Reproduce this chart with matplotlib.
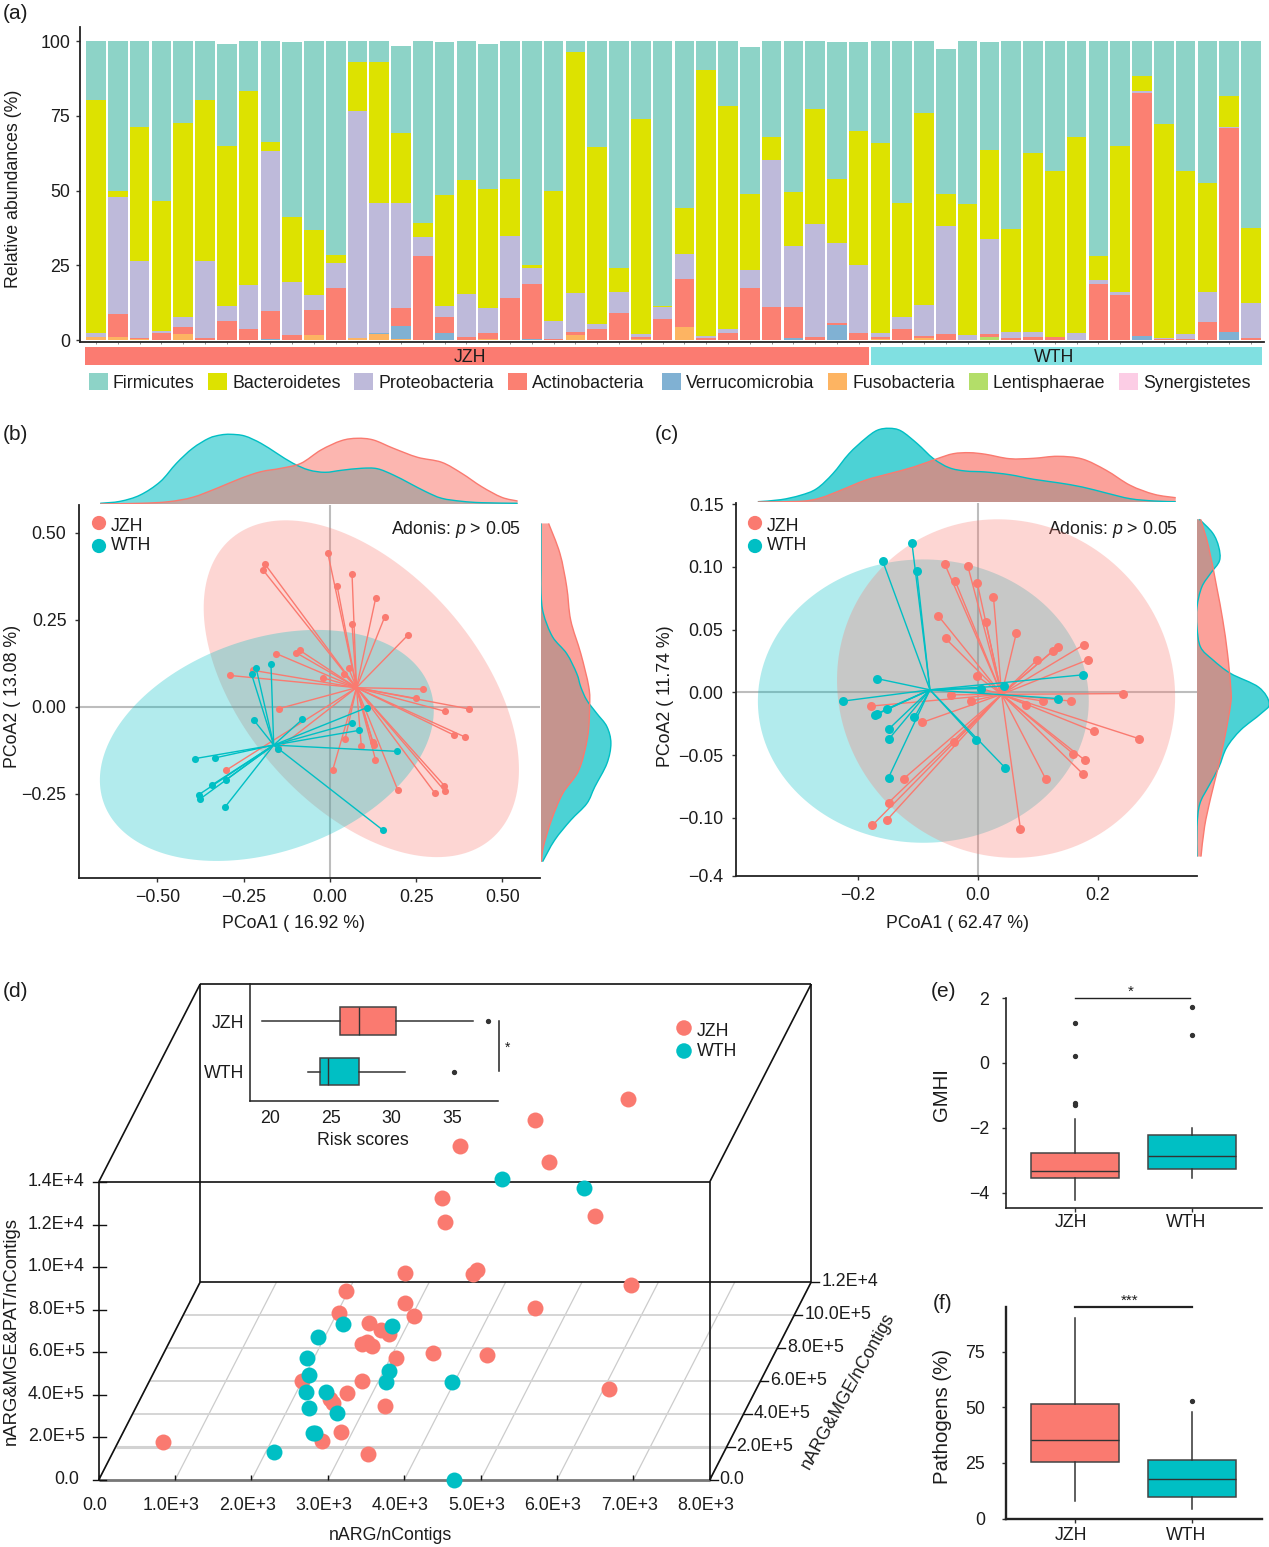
import numpy as np
import matplotlib
matplotlib.use('Agg')
import matplotlib.pyplot as plt
from matplotlib.patches import Rectangle, PathPatch
from matplotlib.path import Path

plt.rcParams['font.family'] = ['Liberation Sans', 'DejaVu Sans']
plt.rcParams['mathtext.fontset'] = 'custom'
plt.rcParams['mathtext.it'] = 'Liberation Sans:italic'
plt.rcParams['mathtext.rm'] = 'Liberation Sans'

W, H = 1269, 1547
PINK = '#FA7A70'
TEAL = '#00BFC4'
DARK = '#1c1c1c'
FS = 12.8

# (a) stacked phyla, one value per sample
phyla = ['Firmicutes', 'Bacteroidetes', 'Proteobacteria', 'Actinobacteria',
         'Verrucomicrobia', 'Fusobacteria', 'Lentisphaerae', 'Synergistetes']
phyla_colors = ['#8DD3C7', '#DDE200', '#BEBADA', '#FB8072', '#80B1D3', '#FDB462', '#B3DE69', '#FCCDE5']
firmicutes = [19.8, 50.1, 28.8, 53.5, 27.4, 19.8, 34.2, 16.5, 33.8, 58.4, 63.3, 71.5, 7.1, 7.1, 29.1, 60.6, 51.3, 46.3,
              48.5, 46.2, 74.9, 50, 3.8, 35.5, 75.7, 26, 88.7, 55.8, 9.7, 21.7, 49, 32, 50.4, 22.7, 45.9, 29.7,
              34, 54.3, 24.1, 48.4, 54.5, 36.1, 62.7, 37.5, 43.3, 32, 72, 35, 11.7, 27.7, 43.3, 47.6, 18.4, 62.4]
bacteroidetes = [77.9, 2.1, 44.7, 43.5, 64.9, 53.8, 53.3, 64.9, 2.8, 21.8, 21.7, 2.7, 16.3, 46.9, 23.2, 4.9, 37, 38.4,
                 39.8, 18.8, 1.1, 43.6, 80.4, 59.2, 8.3, 72, 0.3, 15.4, 89, 74.4, 25.6, 7.9, 18.1, 38.5, 21.2, 44.9,
                 63.6, 37.8, 64.1, 10.6, 43.7, 29.7, 34.6, 59.8, 55.5, 65.6, 8, 49, 4.9, 71.7, 54.5, 36.4, 10.2, 25.2]
proteobacteria = [1.3, 39.2, 25.8, 0.7, 3.3, 25.7, 5.1, 14.9, 53.6, 17.7, 4.9, 8.1, 75.7, 43.7, 35.3, 6.1, 3.8, 14.3,
                  8.3, 21, 5.3, 6.1, 13.2, 1.6, 7, 1, 3.8, 8.4, 0.7, 1.5, 5.9, 49.1, 20.5, 37.8, 26.8, 22.8,
                  1.4, 4.2, 10.5, 36.3, 1.8, 31.9, 2.1, 1.7, 0.2, 2.4, 1.3, 1, 0.9, 0.2, 1.8, 10, 0.4, 11.8]
actinobacteria = [0, 7.6, 0.3, 2.3, 2.4, 0.7, 6.5, 3.6, 9.4, 1.7, 8.5, 17.6, 0.3, 0, 5.8, 28.3, 5.3, 1,
                  1.9, 14, 18.3, 0.3, 0.9, 3.7, 9, 0.5, 7.2, 16, 0.6, 2.4, 17.5, 11, 10.4, 1, 0.6, 2.3,
                  0.7, 3.7, 0.7, 2, 0, 1, 0.4, 1, 1, 0, 18.7, 15, 81.2, 0.2, 0.2, 6, 68.4, 0.6]
verrucomicrobia = [0, 0, 0, 0, 0, 0, 0, 0, 0.4, 0, 0, 0, 0, 0.3, 4.5, 0, 2.4, 0,
                   0, 0, 0.4, 0, 0.1, 0, 0, 0, 0, 0, 0, 0, 0, 0, 0.6, 0, 5.2, 0,
                   0, 0, 0, 0, 0, 0, 0, 0, 0, 0, 0, 0, 1.3, 0, 0, 0, 2.6, 0]
fusobacteria = [1, 1, 0.4, 0, 2, 0, 0, 0, 0, 0, 1.6, 0, 0.6, 2, 0.4, 0, 0, 0,
                0.4, 0, 0, 0, 1.6, 0, 0, 0.5, 0, 4.4, 0, 0, 0, 0, 0, 0, 0, 0,
                0.3, 0, 0.6, 0, 0, 0, 0, 0, 0, 0, 0, 0, 0, 0, 0, 0, 0, 0]
lentisphaerae = [0] * 41 + [1] + [0] * 12
synergistetes = [0] * 42 + [0.2] + [0] * 6 + [0.2, 0.2] + [0] * 3

# (b) PCoA points, centroids, density outlines
b_jzh_x = [-.006, -.189, -.193, .064, .021, .133, .159, .064, .227, -.156, -.099, -.087, .054, .041, -.019, -.289,
           -.224, .270, .250, .403, .334, .361, .392, -.147, .044, .091, .125, .127, .132, .008, -.302, .197,
           .332, .334, .305, -.150]
b_jzh_y = [.441, .411, .392, .383, .347, .314, .259, .237, .207, .153, .156, .162, .111, .094, .083, .090,
           .105, .051, .024, -.006, -.013, -.082, -.087, -.005, -.093, -.113, -.102, -.111, -.152, -.182, -.183, -.240,
           -.227, -.243, -.249, -.120]
b_wth_x = [-.214, -.227, -.171, -.220, -.080, .108, .064, .083, .194, -.150, -.392, -.334, -.302, -.341, -.381, -.378,
           -.304, .153]
b_wth_y = [.111, .093, .124, -.039, -.036, -.002, -.047, -.068, -.128, -.120, -.149, -.147, -.210, -.224, -.253, -.266,
           -.288, -.354]
b_centers = [(.077, .055), (-.163, -.110)]
b_ell_jzh = (.091, .052, .457, .484, -.48)
b_ell_wth = (-.183, -.111, .484, .332, .30)
b_top_wth_x = [-.666, -.608, -.550, -.492, -.445, -.398, -.351, -.317, -.288, -.247, -.200, -.154, -.107, -.061, -.014,
               .033, .091, .137, .184, .231, .278, .324, .382, .440, .544]
b_top_wth_h = [.7, 2.7, 9, 22.3, 40.7, 55.7, 65.7, 69, 69.7, 68, 60.7, 50.7, 40.7, 34, 31.7,
               33.7, 35.7, 35.3, 29, 20.7, 12.3, 5.7, 2.7, 1.3, .7]
b_top_jzh_x = [-.666, -.549, -.468, -.398, -.328, -.258, -.200, -.142, -.084, -.026, .033, .079, .126, .184, .254,
               .324, .382, .440, .498, .544]
b_top_jzh_h = [0, .7, 2.3, 6.7, 15.7, 25.7, 32.3, 35.7, 40.7, 54, 63.3, 65.7, 64, 55.7, 46.7,
               41.7, 30.7, 17.3, 6.7, 3]
b_right_jzh_y = [.527, .441, .345, .249, .153, .057, 0, -.086, -.182, -.249, -.326, -.402, -.445]
b_right_jzh_h = [7.6, 18.9, 25.7, 29.7, 39.8, 47.8, 48.6, 46.6, 37.8, 21.7, 10.4, 2.4, .4]
b_right_wth_y = [.527, .393, .326, .268, .201, .153, .096, .057, .019, -.019, -.057, -.105, -.163, -.230, -.278, -.326,
                 -.383, -.445]
b_right_wth_h = [0, 0, 0, 2.4, 11.6, 25.7, 35.7, 39.8, 45.8, 55.8, 65.9, 69.9, 65.9, 53.8, 45.8, 29.7, 13.7, 1.6]

# (c)
c_jzh_x = [-.055, -.017, -.038, -.001, .026, -.066, .013, -.054, .064, .177, .133, .125, .099, .184, -.001, -.045,
           -.012, .242, .156, .109, .081, -.179, -.093, .193, .269, -.040, .159, .178, .175, .113, -.124, -.149,
           -.152, -.176, .071, .005]
c_jzh_y = [.102, .101, .089, .087, .076, .061, .056, .043, .047, .038, .036, .033, .026, .026, .013, -.002,
           -.007, -.001, -.007, -.007, -.010, -.011, -.024, -.031, -.037, -.040, -.049, -.054, -.065, -.069, -.069, -.088,
           -.102, -.106, -.109, .003]
c_wth_x = [-.110, -.159, -.102, -.169, -.225, -.151, -.168, -.171, -.148, -.148, -.106, -.149, -.003, .045, .005, .043,
           .134, .176]
c_wth_y = [.119, .105, .097, .011, -.007, -.013, -.017, -.018, -.029, -.037, -.020, -.068, -.038, -.060, .003, .005,
           -.005, .014]
c_centers = [(.0396, -.0016), (-.080, .002)]
c_ell_jzh = (.047, .003, .282, .135, -.05)
c_ell_wth = (-.091, -.007, .276, .113, 0)
c_top_wth_x = [-.367, -.329, -.296, -.269, -.242, -.215, -.188, -.168, -.148, -.128, -.101, -.074, -.048, -.021, .013,
               .053, .093, .133, .174, .214, .254, .294, .330]
c_top_wth_h = [.3, 2.3, 6.7, 13.3, 28.3, 48.3, 63.3, 71.7, 73.7, 71, 58.3, 43.3, 34.3, 31, 30,
               27.3, 22.7, 19.3, 15, 9, 3.3, 1, .3]
c_top_jzh_x = [-.367, -.296, -.263, -.229, -.188, -.148, -.107, -.068, -.041, -.014, .013, .053, .093, .133, .174,
               .214, .254, .294, .330]
c_top_jzh_h = [0, .7, 4, 11.7, 21.7, 28.3, 35, 43.3, 48.3, 49.3, 47.7, 43.3, 43.7, 45.7, 43,
               31.7, 16.7, 7.7, 4.3]
c_right_wth_y = [.138, .127, .116, .105, .095, .084, .068, .052, .036, .026, .015, .004, -.009, -.017, -.030, -.044,
                 -.060, -.075, -.089, -.107, -.131]
c_right_wth_h = [2.4, 15.7, 21.7, 22.5, 13.7, 4.8, 0, 0, 3.6, 15.7, 33.7, 61.8, 72.3, 63.9, 43.8, 29.7,
                 21.7, 11.6, 2.8, 0, 0]
c_right_jzh_y = [.138, .116, .084, .058, .031, .004, -.009, -.036, -.062, -.084, -.107, -.131]
c_right_jzh_h = [3.6, 11.6, 19.7, 25.7, 30.5, 33.7, 33.7, 27.7, 20.5, 13.7, 7.6, 4]

# (d) pseudo 3D scatter, x in 1E+3, depth and height in 1E+5
d_jzh_x = [6.26, 5.05, 4.07, 5.23, 3.83, 3.87, 5.84, 3.35, 4.29, 4.23, 6.30, 2.58, 3.34, 5.05, 2.48, 3.46, 2.87, 3.03,
           3.13, 2.78, 2.85, 2.92, 3.71, 4.42, 3.23, 2.33, 3.12, 2.92, 6.35, 2.69, 2.74, 3.42, 3.17, 2.92, .84, 3.53]
d_jzh_y = [6] * 25 + [3] * 7 + [0] * 4
d_jzh_z = [13.23, 12.26, 11.05, 10.29, 8.62, 7.49, 7.75, 5.09, 5.23, 5.01, 4.49, 4.23, 3.68, 3.43, 3.19, 3.07, 2.72, 2.38,
           2.21, 1.76, 1.83, 1.66, 1.32, 1.21, 1.10, 2.34, 2.33, 1.75, 1.96, 1.48, 1.31, 1.13, 2.26, 1.85, 1.79, 1.23]
d_wth_x = [4.62, 5.69, 3.17, 2.54, 2.21, 2.06, 2.09, 3.14, 3.43, 4.29, 2.38, 2.64, 2.42, 2.79, 2.81, 2.83, 2.29, 4.65]
d_wth_y = [6] * 8 + [3] * 6 + [0] * 4
d_wth_z = [9.51, 9.07, 2.59, 2.69, 2.05, 1.07, .28, .48, 2.29, 2.29, 1.79, 1.82, 1.05, .84, 2.23, 2.20, 1.32, 0]
d_xticks = [0, 1, 2, 3, 4, 5, 6, 7, 8]
d_xlabels = ['0.0', '1.0E+3', '2.0E+3', '3.0E+3', '4.0E+3', '5.0E+3', '6.0E+3', '7.0E+3', '8.0E+3']
d_yticks = [0, 2, 4, 6, 8, 10, 12]
d_ylabels = ['0.0', '2.0E+5', '4.0E+5', '6.0E+5', '8.0E+5', '10.0E+5', '1.2E+4']
d_zticks = [0, 2, 4, 6, 8, 10, 12, 14]
d_zlabels = ['0.0', '2.0E+5', '4.0E+5', '6.0E+5', '8.0E+5', '1.0E+4', '1.2E+4', '1.4E+4']

# box statistics: low whisker, q1, median, q3, high whisker, outliers
risk_jzh = (19.3, 25.8, 27.3, 30.4, 36.7, [38.0])
risk_wth = (23.1, 24.1, 24.8, 27.3, 31.1, [35.2])
gmhi_jzh = (-4.23, -3.56, -3.34, -2.79, -1.73, [1.22, .20, -1.25, -1.31])
gmhi_wth = (-3.55, -3.27, -2.86, -2.21, -2.02, [1.72, .86])
path_jzh = (8, 25.2, 35.4, 51.5, 90.1, [])
path_wth = (4.3, 9.9, 17.6, 26.5, 47.9, [52.6])

fig = plt.figure(figsize=(W / 100, H / 100), dpi=100)


def make_ax(l, t, r, b):
    ax = fig.add_axes([l / W, 1 - b / H, (r - l) / W, (b - t) / H])
    ax.patch.set_alpha(0)
    return ax


# pixel overlay for labels, legends and the 3D frame
ov = make_ax(0, 0, W, H)
ov.set_xlim(0, W)
ov.set_ylim(H, 0)
ov.axis('off')


def label(x, y, s, **kw):
    kw.setdefault('fontsize', FS)
    kw.setdefault('color', DARK)
    kw.setdefault('ha', 'center')
    kw.setdefault('va', 'center')
    # nudge so the glyphs, not their bounding box, sit on the position
    if kw.get('rotation') == 90:
        x += 2
    else:
        y += 1.5
    ov.text(x, y, s, **kw)


def style(ax, lw=1.3, pad=6):
    for s in ['top', 'right']:
        ax.spines[s].set_visible(False)
    for s in ['left', 'bottom']:
        ax.spines[s].set_linewidth(lw)
        ax.spines[s].set_color('#222222')
    ax.tick_params(labelsize=FS, length=3, width=1, color='#333333', labelcolor=DARK, pad=pad)


for s, x, y in [('(a)', 15, 12), ('(b)', 15, 433), ('(c)', 667, 433), ('(d)', 15, 990), ('(e)', 943, 990), ('(f)', 943, 1302)]:
    label(x, y, s, fontsize=15)

# ---- (a)
ax = make_ax(80, 27, 1264, 342)
stack = [synergistetes, lentisphaerae, fusobacteria, verrucomicrobia, actinobacteria, proteobacteria, bacteroidetes, firmicutes]
stack_colors = phyla_colors[::-1]
bottom = np.zeros(len(firmicutes))
xs = np.arange(len(firmicutes))
for vals, col in zip(stack, stack_colors):
    ax.bar(xs, vals, width=0.9, bottom=bottom, color=col, linewidth=0)
    bottom += np.array(vals)
ax.set_xlim(-0.734, 53.6)
ax.set_ylim(-0.6, 104.7)
ax.set_yticks([0, 25, 50, 75, 100])
ax.set_xticks(xs)
ax.set_xticklabels([])
style(ax, pad=4)
ax.tick_params(axis='x', length=1.5, width=0.5, color='#666666')
label(12, 189, 'Relative abundances (%)', rotation=90)
ov.add_patch(Rectangle((85, 347), 784, 18, color='#FB7B71', lw=0))
ov.add_patch(Rectangle((871, 347), 391, 18, color='#80E0E1', lw=0))
label(470, 356, 'JZH')
label(1054, 356, 'WTH')
for name, col, x in zip(phyla, phyla_colors, [89, 208, 354, 508, 662, 828, 969, 1119]):
    ov.add_patch(Rectangle((x, 373), 19, 17, color=col, lw=0))
    label(x + 24, 382, name, ha='left')


def ellipse(ax, params, col, z):
    cx, cy, ex, ey, rho = params
    t = np.linspace(0, 2 * np.pi, 200)
    ax.fill(cx + ex * np.cos(t), cy + ey * np.cos(t + np.arccos(rho)), color=col, alpha=0.3, lw=0, zorder=z)


def pcoa(rect, xlim, ylim, xticks, xlabels, yticks, ylabels, jzh, wth, centers, ell_jzh, ell_wth, ms, pink_top):
    ax = make_ax(*rect)
    ax.set_xlim(*xlim)
    ax.set_ylim(*ylim)
    ax.axhline(0, color='#BDBDBD', lw=1.5, zorder=1)
    ax.axvline(0, color='#BDBDBD', lw=1.5, zorder=1)
    ellipse(ax, ell_jzh, PINK, 3 if pink_top else 2)
    ellipse(ax, ell_wth, TEAL, 2 if pink_top else 3)
    for (px, py), (cx, cy), col, z in [(jzh, centers[0], PINK, 4), (wth, centers[1], TEAL, 5)]:
        for a, b in zip(px, py):
            ax.plot([cx, a], [cy, b], color=col, lw=1, zorder=z)
        ax.scatter(px, py, s=ms, color=col, lw=0, zorder=z)
    ax.set_xticks(xticks)
    ax.set_xticklabels(xlabels)
    ax.set_yticks(yticks)
    ax.set_yticklabels(ylabels)
    style(ax)
    ax.tick_params(axis='x', pad=5)
    return ax


def curve(a, b):
    # Bezier pieces through the read points
    p = np.column_stack([a, b])
    verts = [p[0]]
    for i in range(len(p) - 1):
        c1 = p[i] + (p[i + 1] - p[max(i - 1, 0)]) / 6
        c2 = p[i + 1] - (p[min(i + 2, len(p) - 1)] - p[i]) / 6
        verts += [c1, c2, p[i + 1]]
    return verts, [Path.MOVETO] + [Path.CURVE4] * (len(verts) - 1)


def density(ax, a, b, col, alpha, top):
    verts, codes = curve(a, b)
    closing = [(a[-1], 0), (a[0], 0), (a[0], 0)] if top else [(0, b[-1]), (0, b[0]), (0, b[0])]
    ax.add_patch(PathPatch(Path(verts + closing, codes + [Path.LINETO, Path.LINETO, Path.CLOSEPOLY]),
                           facecolor=col, alpha=alpha, lw=0, zorder=2))
    # outlines stay above both fills
    ax.add_patch(PathPatch(Path(verts, codes), facecolor='none', edgecolor=col, lw=1, zorder=3))


def density_top(rect, xlim, top, alpha):
    ax = make_ax(*rect)
    ax.set_xlim(*xlim)
    ax.set_ylim(0, rect[3] - rect[1])
    ax.axis('off')
    for x, h, col in top:
        density(ax, x, h, col, alpha, True)


def density_right(rect, ylim, right, alpha):
    ax = make_ax(*rect)
    ax.set_ylim(*ylim)
    ax.set_xlim(0, rect[2] - rect[0])
    ax.axis('off')
    for y, h, col in right:
        density(ax, h, y, col, alpha, False)


# ---- (b)
xl_b = (-.7275, .609)
yl_b = (-.492, .58)
pcoa((79, 505, 540, 878), xl_b, yl_b, [-.5, -.25, 0, .25, .5], ['\u22120.50', '\u22120.25', '0.00', '0.25', '0.50'],
     [-.25, 0, .25, .5], ['\u22120.25', '0.00', '0.25', '0.50'], (b_jzh_x, b_jzh_y), (b_wth_x, b_wth_y),
     b_centers, b_ell_jzh, b_ell_wth, 26, False)
density_top((79, 424, 540, 504), xl_b, [(b_top_wth_x, b_top_wth_h, TEAL), (b_top_jzh_x, b_top_jzh_h, PINK)], 0.55)
density_right((541, 505, 621, 878), yl_b, [(b_right_wth_y, b_right_wth_h, TEAL), (b_right_jzh_y, b_right_jzh_h, PINK)], 0.7)
label(294, 922, 'PCoA1 ( 16.92 %)')
label(11, 696, 'PCoA2 ( 13.08 %)', rotation=90)
label(521, 528, r'Adonis: $\mathit{p}$ > 0.05', ha='right')

# ---- (c)
xl_c = (-.4035, .3655)
yl_c = (-.1465, .151)
pcoa((736, 503, 1197, 876), xl_c, yl_c, [-.2, 0, .2], ['\u22120.2', '0.0', '0.2'],
     [-.1465, -.1, -.05, 0, .05, .1, .15], ['\u22120.4', '\u22120.10', '\u22120.05', '0.00', '0.05', '0.10', '0.15'],
     (c_jzh_x, c_jzh_y), (c_wth_x, c_wth_y), c_centers, c_ell_jzh, c_ell_wth, 42, True)
density_top((736, 422, 1197, 502), xl_c, [(c_top_wth_x, c_top_wth_h, TEAL), (c_top_jzh_x, c_top_jzh_h, PINK)], 0.7)
density_right((1197, 503, 1277, 876), yl_c, [(c_right_wth_y, c_right_wth_h, TEAL), (c_right_jzh_y, c_right_jzh_h, PINK)], 0.7)
label(958, 922, 'PCoA1 ( 62.47 %)')
label(664, 696, 'PCoA2 ( 11.74 %)', rotation=90)
label(1178, 528, r'Adonis: $\mathit{p}$ > 0.05', ha='right')

for x0 in [99, 755]:
    ov.scatter([x0, x0], [523, 546], s=105, color=[PINK, TEAL], lw=0)
    label(x0 + 12, 525, 'JZH', ha='left')
    label(x0 + 12, 544, 'WTH', ha='left')


# ---- (d)
def proj(x, y, z):
    # data to pixel position of the box drawn below
    x, y, z = np.asarray(x, float), np.asarray(y, float), np.asarray(z, float)
    return 98.7 + x / 8 * 611 + y / 12 * 101.5, 1480 - z / 14 * 298 - y / 12 * 198


def seg(a, b, **kw):
    px, py = proj([a[0], b[0]], [a[1], b[1]], [a[2], b[2]])
    ov.plot(px, py, zorder=2, solid_capstyle='butt', **kw)


for k in d_xticks:
    seg((k, 0, 0), (k, 12, 0), color='#CCCCCC', lw=0.9)
for k in d_yticks[1:-1]:
    seg((0, k, 0), (8, k, 0), color='#D2D2D2', lw=2.2 if k == 2 else 1.3)
box = dict(color='#111111', lw=1.2)
seg((0, 0, 0), (8, 0, 0), color='#777777', lw=2)
for p, q in [((0, 0, 0), (0, 0, 14)), ((8, 0, 0), (8, 0, 14)), ((0, 0, 14), (8, 0, 14)),
             ((0, 12, 0), (8, 12, 0)), ((0, 12, 0), (0, 12, 14)), ((8, 12, 0), (8, 12, 14)), ((0, 12, 14), (8, 12, 14)),
             ((0, 0, 14), (0, 12, 14)), ((8, 0, 14), (8, 12, 14)), ((8, 0, 0), (8, 12, 0)), ((0, 0, 0), (0, 12, 0))]:
    seg(p, q, **box)
for k, s in zip(d_xticks, d_xlabels):
    px, py = proj(k, 0, 0)
    seg((k, 0, 0), (k, 0, 0.25), color='#111111', lw=1)
    label(px - 4, py + 24, s)
for k, s in zip(d_yticks, d_ylabels):
    px, py = proj(8, k, 0)
    ov.plot([px, px + 8], [py, py], color='#111111', lw=1, zorder=2)
    label(px + 10, py - 2, s, ha='left')
for k, s in zip(d_zticks, d_zlabels):
    px, py = proj(0, 0, k)
    ov.plot([px - 6, px + 7], [py, py], color='#111111', lw=1, zorder=2)
    label(px - (20 if k == 0 else 14), py - 2, s, ha='right')
label(390, 1534, 'nARG/nContigs')
label(9, 1331, 'nARG&MGE&PAT/nContigs', rotation=90, fontsize=13.3)
label(848, 1390, 'nARG&MGE/nContigs', rotation=61)

ov.scatter(*proj(d_jzh_x, d_jzh_y, d_jzh_z), s=132, color=PINK, lw=0, zorder=4)
ov.scatter(*proj(d_wth_x, d_wth_y, d_wth_z), s=132, color=TEAL, lw=0, zorder=5)
ov.scatter([684, 684], [1028, 1051], s=125, color=[PINK, TEAL], lw=0, zorder=5)
label(697, 1030, 'JZH', ha='left')
label(697, 1050, 'WTH', ha='left')


def box_stats(vals):
    return dict(whislo=vals[0], q1=vals[1], med=vals[2], q3=vals[3], whishi=vals[4], fliers=vals[5])


def boxes(ax, stats, pos, width, colors, **kw):
    res = ax.bxp([box_stats(v) for v in stats], positions=pos, widths=width, patch_artist=True, showcaps=False,
                 boxprops=dict(edgecolor='#444444', lw=1.1), medianprops=dict(color='#333333', lw=1),
                 whiskerprops=dict(color='#333333', lw=1.1),
                 flierprops=dict(marker='o', ms=2.8, mfc='#333333', mec='#333333'), **kw)
    for patch, col in zip(res['boxes'], colors):
        patch.set_facecolor(col)


# inset
ins = make_ax(249.5, 984, 498, 1100.5)
boxes(ins, [risk_jzh, risk_wth], [1, 0], 0.54, [PINK, TEAL], orientation='horizontal')
ins.set_xlim(18.3, 38.8)
ins.set_ylim(-.574, 1.733)
ins.set_xticks([20, 25, 30, 35])
ins.set_xticklabels(['20', '25', '30', '35'])
ins.set_yticks([1, 0])
ins.set_yticklabels(['JZH', 'WTH'])
style(ins, 1.1)
ins.tick_params(axis='x', pad=7, length=0)
ins.tick_params(axis='y', length=0, pad=4)
ov.plot([499, 499], [1021, 1071], color='#222222', lw=1.1)
label(508, 1046, '*', fontsize=10)
label(363, 1139, 'Risk scores')

# ---- (e)
ax = make_ax(1005.7, 998, 1261.7, 1208)
boxes(ax, [gmhi_jzh, gmhi_wth], [0, 1], 0.75, [PINK, TEAL])
ax.set_xlim(-.592, 1.596)
ax.set_ylim(-4.47, 2)
ax.set_yticks([-4, -2, 0, 2])
ax.set_yticklabels(['\u22124', '\u22122', '0', '2'])
ax.set_xticks([0, 1])
ax.set_xticklabels(['', ''])
style(ax, 1.2, pad=9)
label(1071, 1221, 'JZH')
label(1186, 1221, 'WTH')
label(940, 1095, 'GMHI', rotation=90, fontsize=14.7)
ov.plot([1075, 1190], [998, 998], color='#222222', lw=1)
label(1131, 990, '*', fontsize=11)

# ---- (f)
ax = make_ax(1005.7, 1307, 1261.7, 1519)
boxes(ax, [path_jzh, path_wth], [0, 1], 0.75, [PINK, TEAL])
ax.set_xlim(-.592, 1.596)
ax.set_ylim(-.2, 95)
ax.set_yticks([0, 25, 50, 75])
ax.set_xticks([0, 1])
ax.set_xticklabels(['', ''])
style(ax, 1.7, pad=12)
label(1071, 1534, 'JZH')
label(1186, 1534, 'WTH')
label(940, 1417, 'Pathogens (%)', rotation=90, fontsize=14.7)
ov.plot([1075, 1192], [1307, 1307], color='#222222', lw=1.6)
label(1130, 1299, '***', fontsize=11)

fig.savefig('out.png', dpi=100)
